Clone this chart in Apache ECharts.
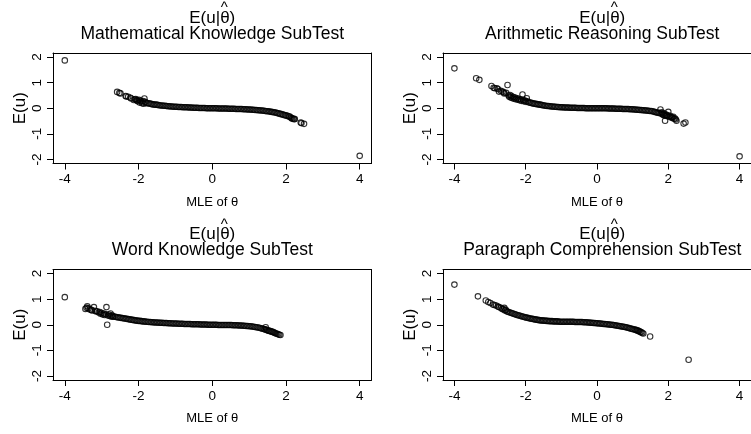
<!DOCTYPE html>
<html>
<head>
<meta charset="utf-8">
<script src="https://cdn.jsdelivr.net/npm/echarts@6/dist/echarts.min.js"></script>
<style>html,body{margin:0;padding:0;background:#fff;}#c{width:751px;height:434px;}</style>
</head>
<body>
<div id="c"></div>
<script>
// ---- data ----
var titles = ['Mathematical Knowledge SubTest', 'Arithmetic Reasoning SubTest', 'Word Knowledge SubTest', 'Paragraph Comprehension SubTest'];
var xTicks = [-4, -2, 0, 2, 4];
var yTicks = [-2, -1, 0, 1, 2];
var xName = 'MLE of \u03b8';
var yName = 'E(u)';

var mathKnowledge = [
[-4.00,1.87],[-2.58,0.64],[-2.52,0.60],[-2.49,0.58],[-2.35,0.48],[-2.33,0.46],[-2.28,0.45],[-2.22,0.41],[-2.20,0.38],[-2.13,0.32],[-2.10,0.35],[-2.08,0.36],[-2.05,0.30],[-2.04,0.32],[-2.02,0.27],[-1.99,0.33],[-1.97,0.22],[-1.95,0.30],[-1.93,0.26],[-1.90,0.20],[-1.88,0.28],[-1.86,0.18],[-1.84,0.38],[-1.82,0.25],
[-1.80,0.21],[-1.76,0.20],[-1.72,0.19],[-1.68,0.18],[-1.64,0.16],[-1.60,0.15],[-1.56,0.14],[-1.52,0.14],[-1.48,0.13],[-1.44,0.12],[-1.40,0.11],[-1.36,0.11],[-1.32,0.10],[-1.28,0.10],[-1.24,0.09],[-1.20,0.08],[-1.16,0.08],[-1.12,0.07],[-1.08,0.07],[-1.04,0.06],[-1.00,0.06],[-0.96,0.06],[-0.92,0.05],[-0.88,0.05],[-0.84,0.05],[-0.80,0.04],[-0.76,0.04],[-0.72,0.04],[-0.68,0.04],[-0.64,0.03],[-0.60,0.03],[-0.56,0.03],[-0.52,0.02],[-0.48,0.02],[-0.44,0.02],[-0.40,0.02],[-0.36,0.01],[-0.32,0.01],[-0.28,0.01],[-0.24,0.01],[-0.20,0.01],[-0.16,0.00],[-0.12,0.00],[-0.08,0.00],[-0.04,0.00],[0.00,0.00],[0.04,0.00],[0.08,0.00],[0.12,0.00],[0.16,-0.01],[0.20,-0.01],[0.24,-0.01],[0.28,-0.01],[0.32,-0.01],[0.36,-0.01],[0.40,-0.01],[0.44,-0.02],[0.48,-0.02],[0.52,-0.02],[0.56,-0.02],[0.60,-0.02],[0.64,-0.03],[0.68,-0.03],[0.72,-0.03],[0.76,-0.03],[0.80,-0.03],[0.84,-0.04],[0.88,-0.04],[0.92,-0.04],[0.96,-0.05],[1.00,-0.05],[1.04,-0.05],[1.08,-0.06],[1.12,-0.06],[1.16,-0.07],[1.20,-0.07],[1.24,-0.08],[1.28,-0.08],[1.32,-0.09],[1.36,-0.09],[1.40,-0.10],[1.44,-0.11],[1.48,-0.12],[1.52,-0.12],[1.56,-0.13],[1.60,-0.14],[1.64,-0.15],[1.68,-0.16],[1.72,-0.17],[1.76,-0.19],[1.80,-0.20],[1.84,-0.22],[1.88,-0.23],[1.92,-0.25],[1.96,-0.27],[2.00,-0.28],[2.04,-0.30],[2.08,-0.32],
[2.10,-0.32],[2.13,-0.36],[2.15,-0.38],[2.17,-0.41],[2.20,-0.40],[2.22,-0.43],[2.24,-0.42],[2.40,-0.56],[2.42,-0.58],[2.49,-0.61],[4.00,-1.86]
];

var arithReasoning = [
[-4.00,1.56],[-3.39,1.17],[-3.30,1.11],[-2.96,0.87],[-2.90,0.80],[-2.87,0.78],[-2.81,0.78],[-2.78,0.75],[-2.75,0.65],[-2.70,0.68],[-2.65,0.65],[-2.62,0.62],[-2.60,0.58],[-2.55,0.60],[-2.51,0.91],[-2.48,0.50],[-2.46,0.45],[-2.44,0.52],[-2.42,0.42],[-2.40,0.48],[-2.38,0.40],[-2.35,0.44],[-2.33,0.37],[-2.30,0.42],[-2.28,0.35],[-2.25,0.39],[-2.22,0.33],[-2.20,0.37],[-2.17,0.31],[-2.14,0.35],[-2.12,0.29],[-2.09,0.54],[-2.07,0.32],[-2.05,0.27],[-2.02,0.30],[-1.99,0.25],[-1.97,0.39],[-1.95,0.27],
[-1.92,0.23],[-1.88,0.22],[-1.84,0.21],[-1.80,0.19],[-1.76,0.18],[-1.72,0.17],[-1.68,0.16],[-1.64,0.15],[-1.60,0.14],[-1.56,0.13],[-1.52,0.12],[-1.48,0.11],[-1.44,0.10],[-1.40,0.09],[-1.36,0.09],[-1.32,0.08],[-1.28,0.07],[-1.24,0.07],[-1.20,0.06],[-1.16,0.06],[-1.12,0.05],[-1.08,0.05],[-1.04,0.04],[-1.00,0.04],[-0.96,0.04],[-0.92,0.03],[-0.88,0.03],[-0.84,0.03],[-0.80,0.03],[-0.76,0.02],[-0.72,0.02],[-0.68,0.02],[-0.64,0.02],[-0.60,0.02],[-0.56,0.01],[-0.52,0.01],[-0.48,0.01],[-0.44,0.01],[-0.40,0.01],[-0.36,0.01],[-0.32,0.00],[-0.28,0.00],[-0.24,0.00],[-0.20,0.00],[-0.16,0.00],[-0.12,0.00],[-0.08,0.00],[-0.04,0.00],[0.00,0.00],[0.04,0.00],[0.08,0.00],[0.12,0.00],[0.16,0.00],[0.20,0.00],[0.24,0.00],[0.28,0.00],[0.32,-0.01],[0.36,-0.01],[0.40,-0.01],[0.44,-0.01],[0.48,-0.01],[0.52,-0.02],[0.56,-0.02],[0.60,-0.02],[0.64,-0.02],[0.68,-0.02],[0.72,-0.03],[0.76,-0.03],[0.80,-0.03],[0.84,-0.03],[0.88,-0.03],[0.92,-0.04],[0.96,-0.04],[1.00,-0.04],[1.04,-0.05],[1.08,-0.05],[1.12,-0.06],[1.16,-0.06],[1.20,-0.07],[1.24,-0.07],[1.28,-0.08],[1.32,-0.08],[1.36,-0.09],[1.40,-0.09],[1.44,-0.10],[1.48,-0.11],[1.52,-0.11],[1.56,-0.12],[1.60,-0.14],[1.64,-0.15],[1.68,-0.17],[1.72,-0.18],[1.76,-0.19],
[1.78,-0.05],[1.80,-0.21],[1.82,-0.16],[1.84,-0.23],[1.86,-0.26],[1.88,-0.20],[1.90,-0.28],[1.91,-0.49],[1.93,-0.25],[1.95,-0.30],[1.97,-0.27],[2.00,-0.14],[2.02,-0.33],[2.05,-0.30],[2.08,-0.36],[2.10,-0.34],[2.12,-0.38],[2.14,-0.33],[2.16,-0.41],[2.19,-0.40],[2.21,-0.44],[2.23,-0.49],[2.43,-0.60],[2.48,-0.56],[4.00,-1.88]
];

var wordKnowledge = [
[-4.00,1.08],[-3.44,0.62],[-3.41,0.66],[-3.39,0.72],[-3.36,0.64],[-3.32,0.60],[-3.28,0.58],[-3.26,0.56],[-3.21,0.69],[-3.18,0.55],[-3.15,0.52],[-3.12,0.53],[-3.08,0.48],[-3.05,0.50],[-3.03,0.43],[-3.00,0.46],[-2.97,0.40],[-2.94,0.44],[-2.92,0.38],[-2.89,0.41],[-2.87,0.69],[-2.85,0.00],[-2.83,0.36],[-2.80,0.40],[-2.78,0.34],[-2.76,0.44],[-2.74,0.32],[-2.72,0.37],[-2.70,0.31],
[-2.68,0.33],[-2.64,0.31],[-2.60,0.30],[-2.56,0.29],[-2.52,0.28],[-2.48,0.27],[-2.44,0.26],[-2.40,0.25],[-2.36,0.24],[-2.32,0.23],[-2.28,0.22],[-2.24,0.21],[-2.20,0.20],[-2.16,0.19],[-2.12,0.18],[-2.08,0.17],[-2.04,0.16],[-2.00,0.15],[-1.96,0.15],[-1.92,0.14],[-1.88,0.13],[-1.84,0.13],[-1.80,0.12],[-1.76,0.12],[-1.72,0.11],[-1.68,0.11],[-1.64,0.10],[-1.60,0.10],[-1.56,0.09],[-1.52,0.09],[-1.48,0.09],[-1.44,0.08],[-1.40,0.08],[-1.36,0.08],[-1.32,0.07],[-1.28,0.07],[-1.24,0.07],[-1.20,0.06],[-1.16,0.06],[-1.12,0.06],[-1.08,0.05],[-1.04,0.05],[-1.00,0.05],[-0.96,0.05],[-0.92,0.04],[-0.88,0.04],[-0.84,0.04],[-0.80,0.04],[-0.76,0.03],[-0.72,0.03],[-0.68,0.03],[-0.64,0.03],[-0.60,0.03],[-0.56,0.02],[-0.52,0.02],[-0.48,0.02],[-0.44,0.02],[-0.40,0.02],[-0.36,0.02],[-0.32,0.01],[-0.28,0.01],[-0.24,0.01],[-0.20,0.01],[-0.16,0.01],[-0.12,0.00],[-0.08,0.00],[-0.04,0.00],[0.00,0.00],[0.04,0.00],[0.08,0.00],[0.12,0.00],[0.16,-0.01],[0.20,-0.01],[0.24,-0.01],[0.28,-0.01],[0.32,-0.01],[0.36,-0.01],[0.40,-0.01],[0.44,-0.01],[0.48,-0.01],[0.52,-0.01],[0.56,-0.02],[0.60,-0.02],[0.64,-0.02],[0.68,-0.02],[0.72,-0.03],[0.76,-0.03],[0.80,-0.03],[0.84,-0.04],[0.88,-0.04],[0.92,-0.05],[0.96,-0.05],[1.00,-0.06],[1.04,-0.06],[1.08,-0.07],[1.12,-0.08],[1.16,-0.09],[1.20,-0.10],[1.24,-0.11],[1.28,-0.12],[1.32,-0.14],[1.36,-0.15],[1.40,-0.17],
[1.43,-0.18],[1.45,-0.10],[1.46,-0.20],[1.49,-0.21],[1.52,-0.23],[1.55,-0.24],[1.58,-0.25],[1.61,-0.27],[1.64,-0.28],[1.67,-0.30],[1.70,-0.32],[1.73,-0.34],[1.76,-0.35],[1.79,-0.37],[1.82,-0.39],[1.85,-0.40]
];

var paragraphComp = [
[-4.00,1.57],[-3.34,1.11],[-3.12,0.95],[-3.05,0.89],[-2.99,0.85],[-2.92,0.79],[-2.88,0.77],[-2.83,0.75],[-2.78,0.71],[-2.75,0.69],[-2.70,0.66],[-2.66,0.62],[-2.62,0.60],[-2.60,0.66],[-2.58,0.56],[-2.56,0.58],[-2.53,0.53],
[-2.50,0.51],[-2.46,0.49],[-2.42,0.47],[-2.38,0.45],[-2.34,0.43],[-2.30,0.41],[-2.26,0.39],[-2.22,0.37],[-2.18,0.36],[-2.14,0.34],[-2.10,0.32],[-2.06,0.31],[-2.02,0.29],[-1.98,0.28],[-1.94,0.27],[-1.90,0.25],[-1.86,0.24],[-1.82,0.23],[-1.78,0.22],[-1.74,0.21],[-1.70,0.20],[-1.66,0.19],[-1.62,0.18],[-1.58,0.17],[-1.54,0.17],[-1.50,0.16],[-1.46,0.16],[-1.42,0.15],[-1.38,0.15],[-1.34,0.14],[-1.30,0.14],[-1.26,0.14],[-1.22,0.13],[-1.18,0.13],[-1.14,0.13],[-1.10,0.13],[-1.06,0.12],[-1.02,0.12],[-0.98,0.12],[-0.94,0.12],[-0.90,0.12],[-0.86,0.12],[-0.82,0.12],[-0.78,0.12],[-0.74,0.12],[-0.70,0.12],[-0.66,0.12],[-0.62,0.11],[-0.58,0.11],[-0.54,0.11],[-0.50,0.11],[-0.46,0.11],[-0.42,0.11],[-0.38,0.10],[-0.34,0.10],[-0.30,0.10],[-0.26,0.09],[-0.22,0.09],[-0.18,0.08],[-0.14,0.08],[-0.10,0.07],[-0.06,0.07],[-0.02,0.06],[0.02,0.06],[0.06,0.05],[0.10,0.05],[0.14,0.04],[0.18,0.03],[0.22,0.03],[0.26,0.02],[0.30,0.02],[0.34,0.01],[0.38,0.00],[0.42,0.00],[0.46,-0.01],[0.50,-0.02],[0.54,-0.03],[0.58,-0.04],[0.62,-0.05],[0.66,-0.06],[0.70,-0.07],[0.74,-0.08],[0.78,-0.09],[0.82,-0.10],[0.86,-0.12],[0.90,-0.13],[0.94,-0.15],[0.98,-0.16],[1.02,-0.18],[1.06,-0.19],
[1.09,-0.20],[1.12,-0.22],[1.15,-0.23],[1.18,-0.25],[1.21,-0.28],[1.24,-0.29],[1.27,-0.32],[1.30,-0.34],[1.49,-0.46],[2.57,-1.37]
];

var panelData = [mathKnowledge, arithReasoning, wordKnowledge, paragraphComp];

// ---- layout ----
var FONT = '"Liberation Sans", Arial, Helvetica, sans-serif';
var boxes = [
  {left: 53, top: 53},
  {left: 443, top: 53},
  {left: 53, top: 269.5},
  {left: 443, top: 269.5}
];
var BW = 318.5, BH = 110.5;
var XMIN = -4.32, XMAX = 4.32, YMIN = -2.16, YMAX = 2.16;
var lineStyle = {color: '#000', width: 1};

var grids = [], xAxes = [], yAxes = [], series = [], graphics = [];
boxes.forEach(function (b, i) {
  grids.push({left: b.left, top: b.top, width: BW, height: BH, show: false, containLabel: false});
  // bottom x axis (ticks + labels)
  xAxes.push({
    type: 'value', gridIndex: i, position: 'bottom', min: XMIN, max: XMAX,
    name: xName, nameLocation: 'middle', nameGap: 32,
    nameTextStyle: {fontFamily: FONT, fontSize: 13, color: '#000'},
    axisLine: {show: true, onZero: false, lineStyle: lineStyle},
    axisTick: {show: true, inside: false, length: 6, lineStyle: lineStyle, customValues: xTicks},
    axisLabel: {show: true, margin: 9, fontFamily: FONT, fontSize: 13.5, color: '#000', customValues: xTicks},
    splitLine: {show: false}
  });
  // top x axis (box edge only)
  xAxes.push({
    type: 'value', gridIndex: i, position: 'top', min: XMIN, max: XMAX,
    axisLine: {show: true, onZero: false, lineStyle: lineStyle},
    axisTick: {show: false}, axisLabel: {show: false}, splitLine: {show: false}
  });
  // left y axis (ticks + labels)
  yAxes.push({
    type: 'value', gridIndex: i, position: 'left', min: YMIN, max: YMAX,
    name: yName, nameLocation: 'middle', nameGap: 20, nameRotate: 90,
    nameTextStyle: {fontFamily: FONT, fontSize: 17, color: '#000'},
    axisLine: {show: true, onZero: false, lineStyle: lineStyle},
    axisTick: {show: true, inside: false, length: 6, lineStyle: lineStyle, customValues: yTicks},
    axisLabel: {show: true, margin: 9, rotate: 90, fontFamily: FONT, fontSize: 13.5, color: '#000', customValues: yTicks},
    splitLine: {show: false}
  });
  // right y axis (box edge only)
  yAxes.push({
    type: 'value', gridIndex: i, position: 'right', min: YMIN, max: YMAX,
    axisLine: {show: true, onZero: false, lineStyle: lineStyle},
    axisTick: {show: false}, axisLabel: {show: false}, splitLine: {show: false}
  });
  series.push({
    type: 'scatter', xAxisIndex: 2 * i, yAxisIndex: 2 * i, data: panelData[i],
    symbol: 'circle', symbolSize: 5.5,
    itemStyle: {color: 'rgba(0,0,0,0)', borderColor: '#000', borderWidth: 1.1},
    emphasis: {disabled: true}, silent: true
  });
  var cx = b.left + BW / 2;
  graphics.push({type: 'text', x: cx, y: b.top - 35, style: {text: 'E(u|\u03b8)', font: '17px ' + FONT, fill: '#000', textAlign: 'center', textVerticalAlign: 'middle'}});
  graphics.push({type: 'text', x: cx + 12, y: b.top - 45, style: {text: '^', font: '15px ' + FONT, fill: '#000', textAlign: 'center', textVerticalAlign: 'middle'}});
  graphics.push({type: 'text', x: cx, y: b.top - 19, style: {text: titles[i], font: '17.5px ' + FONT, fill: '#000', textAlign: 'center', textVerticalAlign: 'middle'}});
});

var chart = echarts.init(document.getElementById('c'), null, {renderer: 'canvas'});
chart.setOption({
  animation: false,
  backgroundColor: '#fff',
  grid: grids, xAxis: xAxes, yAxis: yAxes, series: series,
  graphic: graphics
});
</script>
</body>
</html>
